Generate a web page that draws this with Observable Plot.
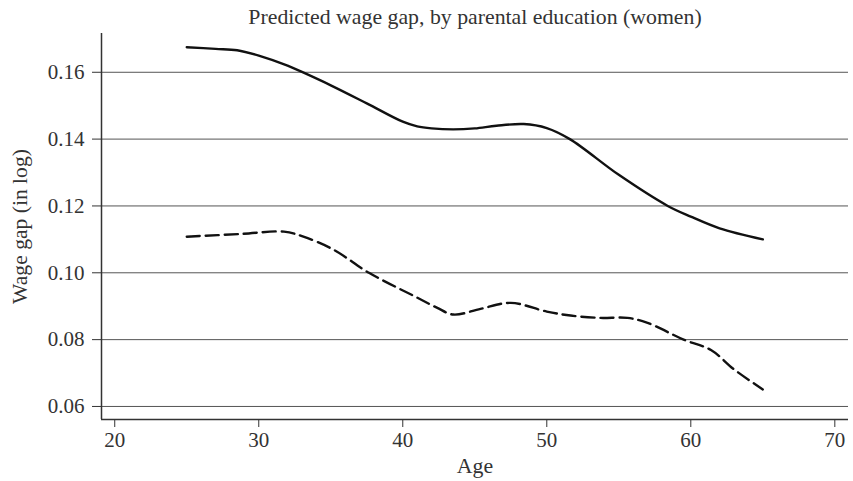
<!DOCTYPE html>
<html>
<head>
<meta charset="utf-8">
<script src="https://cdn.jsdelivr.net/npm/d3@7"></script>
<script src="https://cdn.jsdelivr.net/npm/@observablehq/plot@0.6"></script>
<style>
  html, body { margin: 0; padding: 0; background: #fff; }
  svg, svg text { font-family: "Liberation Serif", "DejaVu Serif", serif !important; }
</style>
</head>
<body>
<div id="chart"></div>
<script>
const titleText = "Predicted wage gap, by parental education (women)";
const xLabel = "Age";
const yLabel = "Wage gap (in log)";

const xTicks = [20, 30, 40, 50, 60, 70];
const yTicks = [0.06, 0.08, 0.10, 0.12, 0.14, 0.16];
const xDomain = [19.08, 70.95];
const yDomain = [0.0561, 0.1716];

// Solid line (series 1)
const solidAge = [25, 27, 28.5, 30, 32, 33, 35, 37.5, 40, 41, 42, 43.5, 45, 46.5, 48.4, 50, 51.6, 55, 58.4, 60, 62, 65];
const solidGap = [0.1675, 0.1670, 0.1666, 0.1650, 0.1620, 0.1601, 0.1561, 0.1507, 0.1452, 0.1438, 0.1432, 0.1429, 0.1432, 0.1440, 0.1445, 0.1433, 0.1400, 0.1293, 0.1200, 0.1168, 0.1133, 0.1100];

// Dashed line (series 2)
const dashAge = [25, 28.7, 31.75, 33.1, 35.2, 37.65, 40.8, 42.4, 43.5, 45.4, 47.5, 50, 51.65, 53.7, 55.6, 57, 59.5, 61.4, 63, 65];
const dashGap = [0.1108, 0.1116, 0.1123, 0.1108, 0.1069, 0.1000, 0.0930, 0.0895, 0.0875, 0.0892, 0.0910, 0.0884, 0.0872, 0.0865, 0.0865, 0.0850, 0.0800, 0.0769, 0.0711, 0.0651];

const solid = solidAge.map((a, i) => ({age: a, gap: solidGap[i]}));
const dashed = dashAge.map((a, i) => ({age: a, gap: dashGap[i]}));

const font = "Liberation Serif";
const ink = "#333";

const chart = Plot.plot({
  width: 853,
  height: 481,
  marginLeft: 101,
  marginRight: 5,
  marginTop: 33,
  marginBottom: 62,
  style: {fontFamily: font, fontSize: "21px", color: ink, background: "#fff"},
  x: {domain: xDomain},
  y: {domain: yDomain},
  marks: [
    Plot.gridY(yTicks, {stroke: "#555", strokeOpacity: 1, strokeWidth: 1}),
    Plot.axisY(yTicks, {tickSize: 9, tickPadding: 8, tickFormat: d3.format(".2f"), label: null, fontSize: 21, stroke: ink, fill: ink}),
    Plot.axisX(xTicks, {tickSize: 8, tickPadding: 5, tickFormat: d => String(d), label: null, fontSize: 21, stroke: ink, fill: ink}),
    Plot.ruleX([xDomain[0]], {stroke: ink, strokeWidth: 1.5}),
    Plot.ruleY([yDomain[0]], {stroke: ink, strokeWidth: 1.5}),
    Plot.line(solid, {x: "age", y: "gap", stroke: "#111", strokeWidth: 2.4, curve: "catmull-rom"}),
    Plot.line(dashed, {x: "age", y: "gap", stroke: "#111", strokeWidth: 2.4, strokeDasharray: "13,6", curve: "catmull-rom"}),
    Plot.text([titleText], {text: d => d, frameAnchor: "top", textAnchor: "middle", lineAnchor: "middle", dy: -16, fontSize: 21.8, fill: ink}),
    Plot.text([xLabel], {text: d => d, frameAnchor: "bottom", textAnchor: "middle", lineAnchor: "middle", dy: 47, fontSize: 21.8, fill: ink}),
    Plot.text([yLabel], {text: d => d, frameAnchor: "left", textAnchor: "middle", lineAnchor: "middle", rotate: -90, dx: -81, fontSize: 21.6, fill: ink})
  ]
});
document.getElementById("chart").appendChild(chart);
</script>
</body>
</html>
